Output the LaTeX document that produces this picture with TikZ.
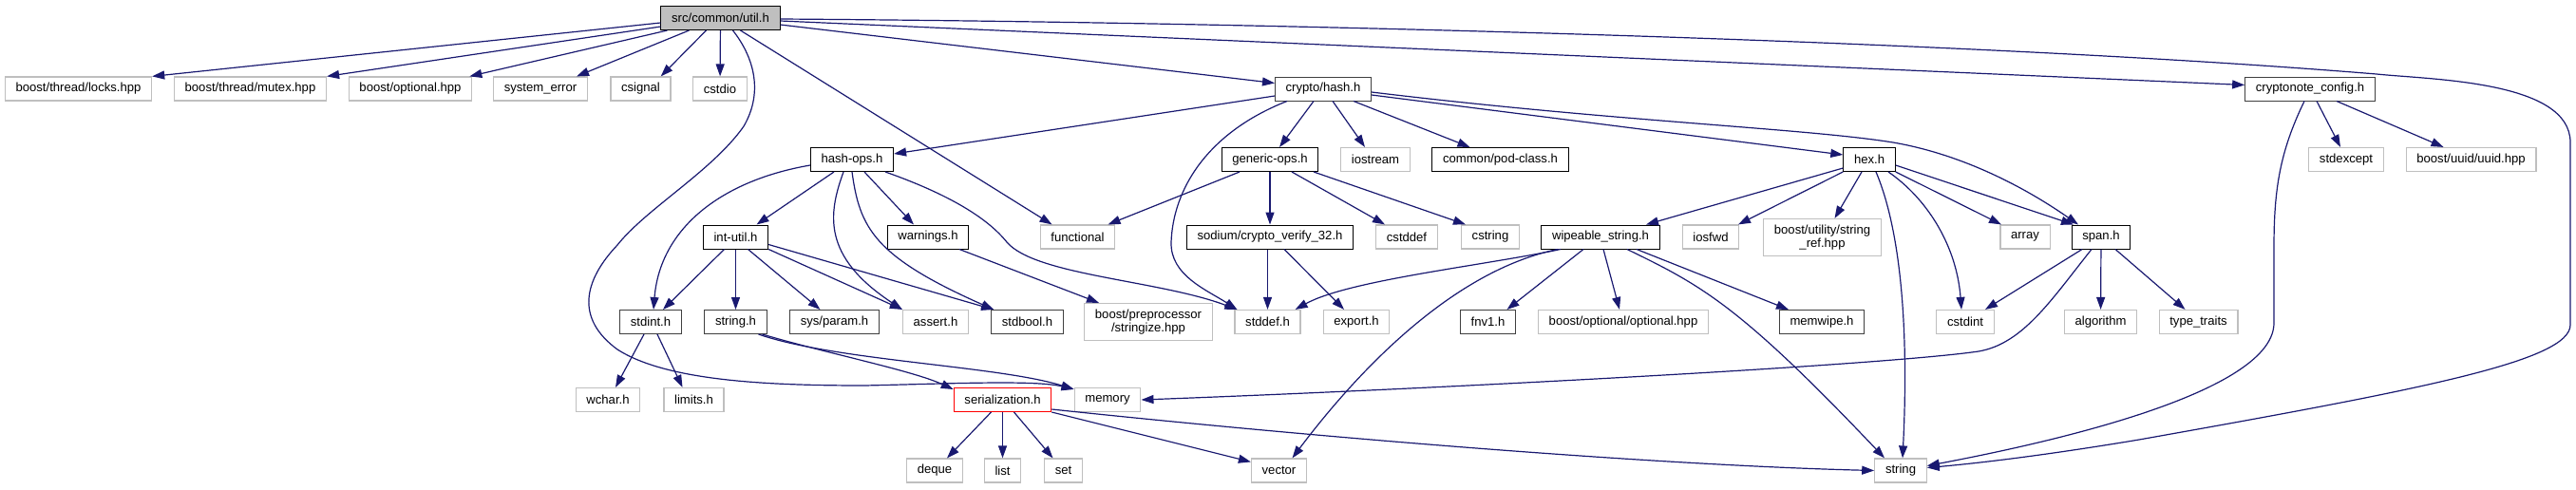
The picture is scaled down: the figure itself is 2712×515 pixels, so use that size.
\documentclass[tikz,border=0pt]{standalone}
\usepackage{fontspec}
\setmainfont{Liberation Sans}
\usetikzlibrary{arrows.meta}
\definecolor{edgeblue}{HTML}{191970}
\definecolor{extgray}{HTML}{BFBFBF}
\definecolor{filegray}{HTML}{404040}

\begin{document}
\begin{tikzpicture}[x=1pt,y=-1pt,
    file/.style={rectangle,draw=black,line width=1pt,inner xsep=11.2pt,inner ysep=0pt,minimum height=25pt,align=center,font=\fontsize{13.1pt}{14pt}\selectfont},
    sysfile/.style={file,draw=extgray,line width=1.2pt},
    docfile/.style={file,draw=filegray},
    rootfile/.style={file,fill=extgray},
    badfile/.style={file,draw=red},
    inc/.style={draw=edgeblue,line width=1.2pt,-{Triangle[length=13pt,width=9pt]}}]
    \useasboundingbox (0,0) rectangle (2712,515);
    \node[rootfile] (util) at (758.5,19) {src/common/util.h};
    \node[sysfile] (locks) at (82.5,93.5) {boost/thread/locks.hpp};
    \node[sysfile] (mutex) at (263.5,93.5) {boost/thread/mutex.hpp};
    \node[sysfile] (optional) at (432,93.5) {boost/optional.hpp};
    \node[sysfile] (syserr) at (569,93.5) {system\_error};
    \node[sysfile] (csignal) at (674.5,93.5) {csignal};
    \node[sysfile] (cstdio) at (758,93.5) {cstdio};
    \node[docfile] (hash) at (1393,93.5) {crypto/hash.h};
    \node[docfile] (config) at (2432,93.5) {cryptonote\_config.h};
    \node[file] (hashops) at (897,168) {hash-ops.h};
    \node[file] (genops) at (1337,168) {generic-ops.h};
    \node[sysfile] (iostream) at (1448,168) {iostream};
    \node[file] (podclass) at (1579.5,168) {common/pod-class.h};
    \node[file] (hex) at (1968,168) {hex.h};
    \node[sysfile] (stdexcept) at (2470,168) {stdexcept};
    \node[sysfile] (uuid) at (2601.5,168) {boost/uuid/uuid.hpp};
    \node[file] (intutil) at (774.5,249.5) {int-util.h};
    \node[file] (warnings) at (977,249.5) {warnings.h};
    \node[sysfile] (functional) at (1134.5,249.5) {functional};
    \node[file] (sodium) at (1337,249.5) {sodium/crypto\_verify\_32.h};
    \node[sysfile] (cstddef) at (1481,249.5) {cstddef};
    \node[sysfile] (cstring) at (1569,249.5) {cstring};
    \node[file] (wipeable) at (1685,249.5) {wipeable\_string.h};
    \node[sysfile] (iosfwd) at (1801,249.5) {iosfwd};
    \node[sysfile,minimum height=39pt] (stringref) at (1918.5,250) {boost/utility/string\\\_ref.hpp};
    \node[sysfile] (array) at (2132,249.5) {array};
    \node[file] (span) at (2212,249.5) {span.h};
    \node[docfile] (stdint) at (685,339) {stdint.h};
    \node[docfile] (stringh) at (774.5,339) {string.h};
    \node[docfile] (sysparam) at (878.5,339) {sys/param.h};
    \node[sysfile] (asserth) at (985,339) {assert.h};
    \node[docfile] (stdbool) at (1081.5,339) {stdbool.h};
    \node[sysfile,minimum height=39pt] (stringize) at (1209,339) {boost/preprocessor\\/stringize.hpp};
    \node[sysfile] (stddef) at (1334.5,339) {stddef.h};
    \node[sysfile] (export) at (1428,339) {export.h};
    \node[docfile] (fnv) at (1566.5,339) {fnv1.h};
    \node[sysfile] (optopt) at (1709,339) {boost/optional/optional.hpp};
    \node[docfile] (memwipe) at (1918,339) {memwipe.h};
    \node[sysfile] (cstdint) at (2069,339) {cstdint};
    \node[sysfile] (algorithm) at (2211.5,339) {algorithm};
    \node[sysfile] (typetraits) at (2314.5,339) {type\_traits};
    \node[sysfile] (wchar) at (640,421) {wchar.h};
    \node[sysfile] (limits) at (730.5,421) {limits.h};
    \node[badfile] (serial) at (1055.5,421) {serialization.h};
    \node[sysfile] (memory) at (1166,421) {memory};
    \node[sysfile] (deque) at (984,495.5) {deque};
    \node[sysfile] (list) at (1055.5,495.5) {list};
    \node[sysfile] (set) at (1119.5,495.5) {set};
    \node[sysfile] (vector) at (1346.5,495.5) {vector};
    \node[sysfile] (string) at (2001,495.5) {string};

    \draw[inc] ([yshift=-5pt]util.west) -- (locks.north east);
    \draw[inc] ([yshift=-9pt]util.west) -- (mutex.north east);
    \draw[inc] ([xshift=-56pt]util.south) -- ([xshift=-3pt]optional.north east);
    \draw[inc] ([xshift=-33pt]util.south) -- ([xshift=-12pt]syserr.north east);
    \draw[inc] ([xshift=-15pt]util.south) -- ([xshift=-11pt]csignal.north east);
    \draw[inc] (util) -- (cstdio);
    \draw[inc] ([xshift=21pt]util.south) -- ([xshift=-27pt]functional.north);
    \draw[inc] ([yshift=-7pt]util.east) -- ([yshift=6pt]hash.west);
    \draw[inc] ([yshift=-3pt]util.east) -- ([yshift=4pt]config.west);
    \draw[inc] ([yshift=-1pt]util.east) .. controls (1400,24) and (2100,45) .. (2502,78) .. controls (2560,84) and (2706,85) .. (2706,150) -- (2706,342) .. controls (2706,380) and (2550,410) .. (2252,463) .. controls (2150,480) and (2080,488) .. ([yshift=3pt]string.east);
    \draw[inc] ([xshift=13pt]util.south) .. controls (792,58) and (805,95) .. (783,133) .. controls (750,180) and (680,220) .. (650,258) .. controls (615,295) and (605,335) .. (650,368) .. controls (700,400) and (800,406) .. (910,406) .. controls (1000,404) and (1090,400) .. ([yshift=-2pt]memory.north west);
    \draw[inc] ([xshift=-6pt]config.south) .. controls (2400,160) and (2394,200) .. (2394,260) -- (2394,340) .. controls (2394,410) and (2180,462) .. ([yshift=5pt]string.east);
    \draw[inc] ([xshift=7pt]config.south) -- ([xshift=-6pt]stdexcept.north);
    \draw[inc] ([xshift=28pt]config.south) -- ([xshift=-29pt]uuid.north);

    \draw[inc] ([yshift=-7.5pt]hash.west) -- ([yshift=6pt]hashops.east);
    \draw[inc] ([xshift=-38pt]hash.south) .. controls (1270,140) and (1235,200) .. (1233,255) .. controls (1232,290) and (1270,305) .. ([xshift=3pt]stddef.north west);
    \draw[inc] ([xshift=-10pt]hash.south) -- ([xshift=10pt]genops.north);
    \draw[inc] ([xshift=10pt]hash.south) -- ([xshift=-11pt]iostream.north);
    \draw[inc] ([xshift=32pt]hash.south) -- ([xshift=-32pt]podclass.north);
    \draw[inc] ([yshift=-6.5pt]hash.east) -- ([yshift=5pt]hex.west);
    \draw[inc] ([yshift=-3.5pt]hash.east) .. controls (1700,128) and (1900,135) .. (1993,150) .. controls (2080,165) and (2150,210) .. ([xshift=-24pt]span.north);

    \draw[inc] ([xshift=-19pt]hashops.south) -- ([xshift=22pt]intutil.north);
    \draw[inc] ([yshift=-6pt]hashops.west) .. controls (760,190) and (695,240) .. ([xshift=3pt]stdint.north);
    \draw[inc] ([xshift=-9pt]hashops.south) .. controls (872,225) and (865,270) .. (asserth.north west);
    \draw[inc] (hashops.south) .. controls (905,240) and (920,270) .. ([xshift=3pt]stdbool.north west);
    \draw[inc] ([xshift=13pt]hashops.south) -- ([xshift=-15pt]warnings.north);
    \draw[inc] ([xshift=35pt]hashops.south) .. controls (1000,205) and (1040,230) .. (1060,255) .. controls (1090,290) and (1220,295) .. ([xshift=3pt]stddef.north west);

    \draw[inc] ([xshift=-12pt]intutil.south) -- ([xshift=13pt]stdint.north);
    \draw[inc] (intutil) -- (stringh);
    \draw[inc] ([xshift=13pt]intutil.south) -- ([xshift=-15pt]sysparam.north);
    \draw[inc] (intutil.south east) -- (asserth.north west);
    \draw[inc] ([yshift=-8pt]intutil.east) -- ([xshift=3pt]stdbool.north west);
    \draw[inc] ([xshift=33pt]warnings.south) -- ([xshift=-52pt]stringize.north);

    \draw[inc] ([xshift=-32pt]genops.south) -- ([xshift=32pt]functional.north);
    \draw[inc] (genops) -- (sodium);
    \draw[inc] ([xshift=23pt]genops.south) -- ([xshift=-23pt]cstddef.north);
    \draw[inc] ([xshift=46pt]genops.south) -- ([xshift=-26pt]cstring.north);
    \draw[inc] (sodium.south -| stddef.north) -- (stddef.north);
    \draw[inc] ([xshift=15pt]sodium.south) -- ([xshift=-13pt]export.north);

    \draw[inc] ([xshift=-42pt]wipeable.south) .. controls (1560,280) and (1420,295) .. ([xshift=-6pt]stddef.north east);
    \draw[inc] ([xshift=-45pt]wipeable.south) .. controls (1530,285) and (1430,390) .. ([xshift=14pt]vector.north);
    \draw[inc] ([xshift=-18pt]wipeable.south) -- ([xshift=20pt]fnv.north);
    \draw[inc] ([xshift=3pt]wipeable.south) -- ([xshift=-4pt]optopt.north);
    \draw[inc] ([xshift=38pt]wipeable.south) -- ([xshift=-35pt]memwipe.north);
    \draw[inc] ([xshift=28pt]wipeable.south) .. controls (1790,300) and (1830,320) .. ([xshift=-17pt]string.north);

    \draw[inc] ([yshift=-9pt]hex.west) -- ([xshift=48pt]wipeable.north);
    \draw[inc] (hex.south west) -- ([xshift=29pt]iosfwd.north);
    \draw[inc] ([xshift=-8pt]hex.south) -- ([xshift=13pt]stringref.north);
    \draw[inc] ([xshift=7pt]hex.south) .. controls (2000,240) and (2010,340) .. ([xshift=2pt]string.north);
    \draw[inc] ([xshift=20pt]hex.south) .. controls (2030,210) and (2060,260) .. ([xshift=-4pt]cstdint.north);
    \draw[inc] (hex.south east) -- ([xshift=-25pt]array.north);
    \draw[inc] ([yshift=-6pt]hex.east) -- ([xshift=-29pt]span.north);

    \draw[inc] ([xshift=-20pt]span.south) -- ([xshift=21pt]cstdint.north);
    \draw[inc] ([xshift=-10pt]span.south) .. controls (2160,315) and (2130,362) .. (2083,370) .. controls (1980,385) and (1500,410) .. (memory.east);
    \draw[inc] (span) -- (algorithm);
    \draw[inc] ([xshift=15pt]span.south) -- ([xshift=-14pt]typetraits.north);

    \draw[inc] ([xshift=24pt]stringh.south) .. controls (880,380) and (1050,385) .. ([yshift=-2pt]memory.north west);
    \draw[inc] ([xshift=28pt]stringh.south) .. controls (870,372) and (960,390) .. ([yshift=-2pt]serial.north west);
    \draw[inc] ([xshift=-7pt]stdint.south) -- ([xshift=8pt]wchar.north);
    \draw[inc] ([xshift=7pt]stdint.south) -- ([xshift=-12pt]limits.north);

    \draw[inc] ([xshift=-12pt]serial.south) -- ([xshift=13pt]deque.north);
    \draw[inc] (serial) -- (list);
    \draw[inc] ([xshift=12pt]serial.south) -- ([xshift=-11pt]set.north);
    \draw[inc] (serial.south east) -- ([yshift=-4pt]vector.north west);
    \draw[inc] ([yshift=-10pt]serial.east) .. controls (1400,462) and (1750,490) .. (string.west);
\end{tikzpicture}
\end{document}
